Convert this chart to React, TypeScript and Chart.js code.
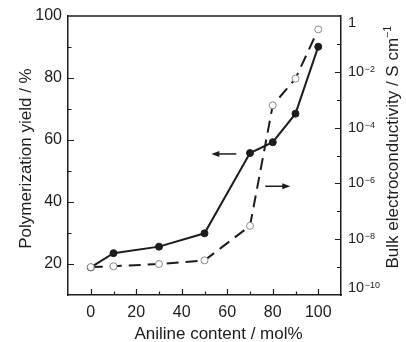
import React, { useEffect, useRef } from "react";
import { Chart, registerables } from "chart.js";

Chart.register(...registerables);

// ---- data ----
const aniline = [0, 10, 30, 50, 70, 80, 90, 100];
const yieldPct = [18.9, 23.5, 25.6, 29.9, 55.8, 59.3, 68.5, 90.1];
const conductivity = [1.0e-9, 1.07e-9, 1.29e-9, 1.74e-9, 3.0e-8, 6.3e-4, 5.7e-3, 0.33];

// ---- ticks & labels ----
const xTickLabels = [0, 20, 40, 60, 80, 100];
const xTickMarks = [0, 10, 20, 30, 40, 50, 60, 70, 80, 90, 100];
const yTickLabels = [20, 40, 60, 80, 100];
const yTickMarks = [20, 30, 40, 50, 60, 70, 80, 90];
const rightLabelExps = [0, -2, -4, -6, -8, -10];
const rightTickExps = [-1, -2, -3, -4, -5, -6, -7, -8, -9];

const xTitle = "Aniline content / mol%";
const yTitle = "Polymerization yield / %";
const y1Title = "Bulk electroconductivity / S cm";
const y1TitleSup = "\u22121";

// arrows pointing each curve to its axis (data coordinates)
const arrowAxis = ["y", "y1"];
const arrowFrom = [64, 76.7];
const arrowTo = [53, 87.7];
const arrowLevel = [55.5, 7.9e-7];

const INK = "#1c1c1c";
const FONT = "'Liberation Sans', Arial, Helvetica, sans-serif";

const decorPlugin = {
  id: "decor",
  afterDraw(chart: any) {
    const ctx = chart.ctx as CanvasRenderingContext2D;
    const { left, right, top, bottom } = chart.chartArea;
    const xs = chart.scales.x;
    const ys = chart.scales.y;
    const y1 = chart.scales.y1;
    ctx.save();
    ctx.strokeStyle = INK;
    ctx.fillStyle = INK;
    ctx.lineWidth = 1.5;
    // top frame line
    ctx.beginPath();
    ctx.moveTo(left, top);
    ctx.lineTo(right, top);
    ctx.stroke();
    // inward tick marks
    ctx.lineWidth = 1.2;
    ctx.beginPath();
    for (const v of xTickMarks) {
      const p = Math.round(xs.getPixelForValue(v)) + 0.5;
      const len = v % 20 === 0 ? 6 : 3.5;
      ctx.moveTo(p, bottom);
      ctx.lineTo(p, bottom - len);
    }
    for (const v of yTickMarks) {
      const p = Math.round(ys.getPixelForValue(v)) + 0.5;
      const len = v % 20 === 0 ? 6 : 3.5;
      ctx.moveTo(left, p);
      ctx.lineTo(left + len, p);
    }
    for (const e of rightTickExps) {
      const p = Math.round(y1.getPixelForValue(Math.pow(10, e))) + 0.5;
      const len = e % 2 === 0 ? 6 : 4;
      ctx.moveTo(right, p);
      ctx.lineTo(right - len, p);
    }
    ctx.stroke();

    // right axis labels with superscripts
    for (const e of rightLabelExps) {
      let y = y1.getPixelForValue(Math.pow(10, e));
      y = Math.min(Math.max(y, top + 7), bottom - 7);
      const x = right + 7;
      ctx.textAlign = "left";
      ctx.textBaseline = "middle";
      ctx.font = `14.5px ${FONT}`;
      if (e === 0) {
        ctx.fillText("1", x, y);
      } else {
        ctx.fillText("10", x, y);
        const w = ctx.measureText("10").width;
        ctx.font = `9px ${FONT}`;
        ctx.textBaseline = "alphabetic";
        ctx.fillText("\u2212" + Math.abs(e), x + w + 0.5, y);
      }
    }

    // axis titles
    ctx.font = `17px ${FONT}`;
    ctx.textBaseline = "alphabetic";
    ctx.textAlign = "center";
    ctx.fillText(xTitle, (left + right) / 2 + 14, bottom + 44);

    ctx.save();
    ctx.translate(left - 37.5, (top + bottom) / 2 + 3);
    ctx.rotate(-Math.PI / 2);
    ctx.fillText(yTitle, 0, 0);
    ctx.restore();

    ctx.save();
    ctx.translate(right + 57, (top + bottom) / 2 - 8);
    ctx.rotate(-Math.PI / 2);
    ctx.textAlign = "left";
    ctx.font = `17px ${FONT}`;
    const w1 = ctx.measureText(y1Title).width;
    ctx.font = `10px ${FONT}`;
    const w2 = ctx.measureText(y1TitleSup).width;
    const start = -(w1 + w2) / 2;
    ctx.font = `17px ${FONT}`;
    ctx.fillText(y1Title, start, 0);
    ctx.font = `10px ${FONT}`;
    ctx.fillText(y1TitleSup, start + w1 + 0.5, -7);
    ctx.restore();

    // arrows
    ctx.lineWidth = 1.5;
    for (let i = 0; i < arrowFrom.length; i++) {
      const sc = chart.scales[arrowAxis[i]];
      const yy = sc.getPixelForValue(arrowLevel[i]);
      const xa = xs.getPixelForValue(arrowFrom[i]);
      const xb = xs.getPixelForValue(arrowTo[i]);
      const dir = xb > xa ? 1 : -1;
      ctx.beginPath();
      ctx.moveTo(xa, yy);
      ctx.lineTo(xb - dir * 6, yy);
      ctx.stroke();
      ctx.beginPath();
      ctx.moveTo(xb, yy);
      ctx.lineTo(xb - dir * 8, yy - 3);
      ctx.lineTo(xb - dir * 8, yy + 3);
      ctx.closePath();
      ctx.fill();
    }
    ctx.restore();
  },
};

export default function App() {
  const ref = useRef<HTMLCanvasElement | null>(null);
  useEffect(() => {
    if (!ref.current) return;
    const chart = new Chart(ref.current, {
      type: "line",
      data: {
        datasets: [
          {
            label: "Bulk electroconductivity",
            data: aniline.map((x, i) => ({ x, y: conductivity[i] })),
            yAxisID: "y1",
            borderColor: INK,
            borderWidth: 2,
            borderDash: [12, 7],
            pointRadius: 3.5,
            pointBackgroundColor: "#ffffff",
            pointBorderColor: "#8a8a8a",
            pointBorderWidth: 1,
            tension: 0,
          },
          {
            label: "Polymerization yield",
            data: aniline.map((x, i) => ({ x, y: yieldPct[i] })),
            yAxisID: "y",
            borderColor: INK,
            borderWidth: 2,
            pointRadius: 3.5,
            pointBackgroundColor: INK,
            pointBorderColor: INK,
            pointBorderWidth: 1,
            tension: 0,
          },
        ],
      },
      options: {
        responsive: false,
        animation: false,
        events: [],
        layout: { padding: { top: 16, left: 0, right: 0, bottom: 0 } },
        plugins: { legend: { display: false }, tooltip: { enabled: false } },
        scales: {
          x: {
            type: "linear",
            min: -10,
            max: 110,
            grid: { display: false, drawTicks: false },
            border: { display: true, color: INK, width: 1.5 },
            afterBuildTicks: (s: any) => {
              s.ticks = xTickLabels.map((v) => ({ value: v }));
            },
            afterFit: (s: any) => {
              s.height = 47;
            },
            ticks: { color: INK, font: { family: FONT, size: 16 }, padding: 8, maxRotation: 0 },
          },
          y: {
            type: "linear",
            position: "left",
            min: 10,
            max: 100,
            grid: { display: false, drawTicks: false },
            border: { display: true, color: INK, width: 1.5 },
            afterBuildTicks: (s: any) => {
              s.ticks = yTickLabels.map((v) => ({ value: v }));
            },
            afterFit: (s: any) => {
              s.width = 68;
            },
            ticks: { color: INK, font: { family: FONT, size: 16 }, padding: 6 },
          },
          y1: {
            type: "logarithmic",
            position: "right",
            min: 1e-10,
            max: 1,
            grid: { display: false, drawTicks: false },
            border: { display: true, color: INK, width: 1.5 },
            afterBuildTicks: (s: any) => {
              s.ticks = rightLabelExps.map((e) => ({ value: Math.pow(10, e) }));
            },
            afterFit: (s: any) => {
              s.width = 65;
            },
            ticks: { display: false },
          },
        },
      },
      plugins: [decorPlugin],
    } as any);
    return () => chart.destroy();
  }, []);
  return (
    <div style={{ position: "fixed", left: 0, top: 0, width: 406, height: 342, background: "#fff" }}>
      <canvas ref={ref} width={406} height={342} />
    </div>
  );
}
